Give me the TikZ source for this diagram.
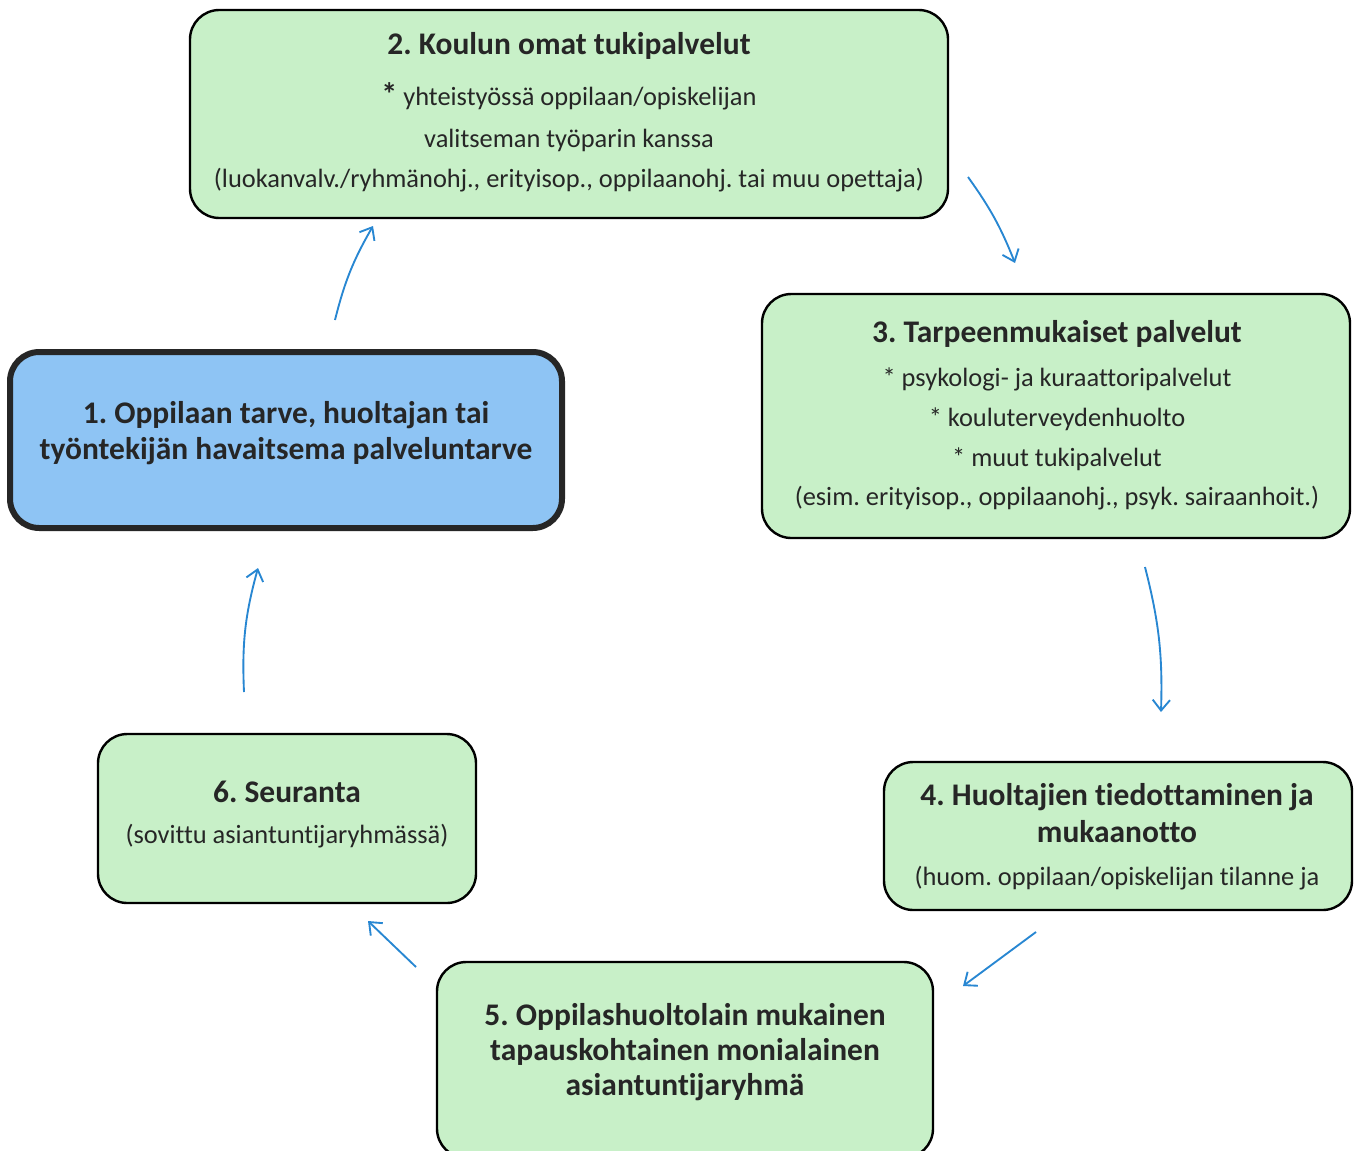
\documentclass[tikz,border=0pt]{standalone}
\usepackage{fontspec}
\setmainfont{Carlito}[Ligatures=NoCommon]
\usetikzlibrary{arrows.meta}
\definecolor{boxgreen}{RGB}{200,240,200}
\definecolor{boxblue}{RGB}{142,196,244}
\definecolor{arrowblue}{RGB}{40,135,210}
\tikzset{
  greenbox/.style={draw=black, line width=1.8pt, fill=boxgreen, rounded corners=22pt, inner sep=0pt},
  bluebox/.style={draw=black!85, line width=4.5pt, fill=boxblue, rounded corners=22pt, inner sep=0pt},
  ttl/.style={font=\fontsize{23.6}{28}\selectfont\bfseries, text=black!85, inner sep=0pt, anchor=center},
  txt/.style={font=\fontsize{19.8}{24}\selectfont, text=black!85, inner sep=0pt, anchor=center},
  cyc/.style={draw=arrowblue, line width=1.4pt, -{Straight Barb[length=8pt,width=13pt,line width=1.4pt]}}
}
\begin{document}
\frenchspacing
\begin{tikzpicture}[x=0.75pt,y=-0.75pt]
\clip (0,0) rectangle (1356,1150);
\fill[white] (0,0) rectangle (1356,1150);
% boxes
\node[greenbox, minimum width=568.5pt, minimum height=156pt] (b2) at (569,114) {};
\node[bluebox, minimum width=414pt, minimum height=132pt] (b1) at (286,440) {};
\node[greenbox, minimum width=441pt, minimum height=183pt] (b3) at (1056,416) {};
\node[greenbox, minimum width=351pt, minimum height=111pt] (b4) at (1118,836) {};
\node[greenbox, minimum width=372pt, minimum height=147pt] (b5) at (685,1060) {};
\node[greenbox, minimum width=283.5pt, minimum height=126.75pt] (b6) at (287,818.5) {};
% texts box 2
\node[ttl] (t2a) at (569,46) {2. Koulun omat tukipalvelut};
\node[txt] (t2b) at (569,96) {{\fontsize{24}{24}\selectfont\bfseries *} yhteistyössä oppilaan/opiskelijan};
\node[txt] (t2c) at (569,140) {valitseman työparin kanssa};
\node[txt] (t2d) at (569,180) {(luokanvalv./ryhmänohj., erityisop., oppilaanohj. tai muu opettaja)};
% box 1
\node[ttl] (t1a) at (286,415) {1. Oppilaan tarve, huoltajan tai};
\node[ttl] (t1b) at (286,451) {työntekijän havaitsema palveluntarve};
% box 3
\node[ttl] (t3a) at (1057,334) {3. Tarpeenmukaiset palvelut};
\node[txt] (t3b) at (1057,379) {* psykologi- ja kuraattoripalvelut};
\node[txt] (t3c) at (1057,419) {* kouluterveydenhuolto};
\node[txt] (t3d) at (1057,459) {* muut tukipalvelut};
\node[txt] (t3e) at (1057,498) {(esim. erityisop., oppilaanohj., psyk. sairaanhoit.)};
% box 4
\node[ttl] (t4a) at (1117,797) {4. Huoltajien tiedottaminen ja};
\node[ttl] (t4b) at (1117,832) {mukaanotto};
\node[txt] (t4c) at (1117,878) {(huom. oppilaan/opiskelijan tilanne ja};
% box 5
\node[ttl] (t5a) at (685,1017) {5. Oppilashuoltolain mukainen};
\node[ttl] (t5b) at (685,1052) {tapauskohtainen monialainen};
\node[ttl] (t5c) at (685,1087) {asiantuntijaryhmä};
% box 6
\node[ttl] (t6a) at (287,792) {6. Seuranta};
\node[txt] (t6b) at (287,836) {(sovittu asiantuntijaryhmässä)};
% arrow end points
\coordinate (a1s) at (335,320); \coordinate (a1e) at (373,226);
\coordinate (a2s) at (968,177); \coordinate (a2e) at (1015,263);
\coordinate (a3s) at (1145,567); \coordinate (a3e) at (1161,712);
\coordinate (a4s) at (1036,932); \coordinate (a4e) at (963,986);
\coordinate (a5s) at (416,967); \coordinate (a5e) at (368,921);
\coordinate (a6s) at (244,692); \coordinate (a6e) at (258,568);
\draw[cyc] (a1s) to[bend left=8] (a1e);
\draw[cyc] (a2s) to[bend left=7] (a2e);
\draw[cyc] (a3s) to[bend left=8] (a3e);
\draw[cyc] (a4s) -- (a4e);
\draw[cyc] (a5s) -- (a5e);
\draw[cyc] (a6s) to[bend left=9] (a6e);
\end{tikzpicture}
\end{document}
